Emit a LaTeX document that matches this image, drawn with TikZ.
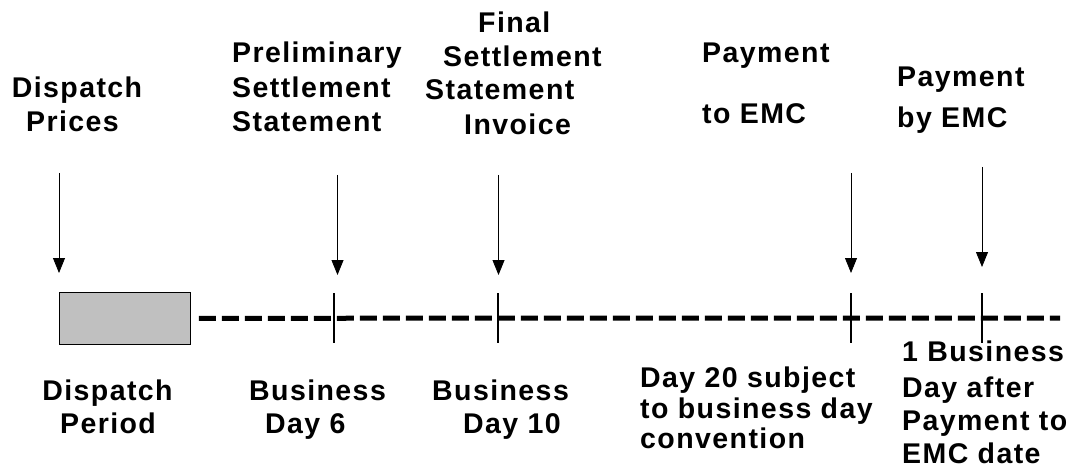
\documentclass[tikz,border=0pt]{standalone}
\usepackage{fontspec}
\setmainfont{Liberation Sans}[LetterSpace=5]
\usetikzlibrary{arrows.meta}
\definecolor{boxgray}{HTML}{C0C0C0}
\begin{document}
\begin{tikzpicture}[x=1pt,y=-1pt,
  lbl/.style={font=\fontsize{28.5}{33}\selectfont\bfseries, inner sep=0pt, anchor=base west},
  lblc/.style={lbl, anchor=base},
  evarrow/.style={-{Triangle[width=12pt,length=15pt]}, line width=0.8pt},
  tickmark/.style={line width=1.5pt},
  timeline/.style={line width=5pt, dash pattern=on 17pt off 6pt}]
\useasboundingbox (0,0) rectangle (1075,470);

% top labels
\node[lblc] (dp1) at (77,98) {Dispatch};
\node[lblc] (dp2) at (72.5,132) {Prices};
\node[lbl] (ps1) at (232,63) {Preliminary};
\node[lbl] (ps2) at (232,98) {Settlement};
\node[lbl] (ps3) at (232,132) {Statement};
\node[lbl] (fs1) at (478,33) {Final};
\node[lbl] (fs2) at (443,67) {Settlement};
\node[lbl] (fs3) at (425,100) {Statement};
\node[lbl] (fs4) at (464,135) {Invoice};
\node[lbl] (pt1) at (702,63) {Payment};
\node[lbl] (pt2) at (702,124) {to EMC};
\node[lbl] (pb1) at (897,87) {Payment};
\node[lbl] (pb2) at (897,128) {by EMC};

% arrows
\coordinate (a1s) at (59,173);   \coordinate (a1e) at (59,273);
\coordinate (a2s) at (337.5,175); \coordinate (a2e) at (337.5,275);
\coordinate (a3s) at (498.5,175); \coordinate (a3e) at (498.5,275);
\coordinate (a4s) at (851,173);  \coordinate (a4e) at (851,273);
\coordinate (a5s) at (982,167);  \coordinate (a5e) at (982,267);
\draw[evarrow] (a1s) -- (a1e);
\draw[evarrow] (a2s) -- (a2e);
\draw[evarrow] (a3s) -- (a3e);
\draw[evarrow] (a4s) -- (a4e);
\draw[evarrow] (a5s) -- (a5e);

% dispatch period box
\node[draw, fill=boxgray, line width=0.8pt, inner sep=0pt,
      minimum width=131pt, minimum height=52pt] (period) at (125,318.3) {};

% timeline
\coordinate (le) at (1060,318);
\draw[timeline] ([xshift=8pt]period.east) -- (le);

% ticks
\coordinate (t1a) at (334,293); \coordinate (t1b) at (334,343);
\coordinate (t2a) at (498,293); \coordinate (t2b) at (498,343);
\coordinate (t3a) at (851,293); \coordinate (t3b) at (851,343);
\coordinate (t4a) at (982,293); \coordinate (t4b) at (982,343);
\draw[tickmark] (t1a) -- (t1b);
\draw[tickmark] (t2a) -- (t2b);
\draw[tickmark] (t3a) -- (t3b);
\draw[tickmark] (t4a) -- (t4b);

% bottom labels
\node[lblc] (dd1) at (107.5,400) {Dispatch};
\node[lblc] (dd2) at (108,433) {Period};
\node[lbl] (b61) at (249,400) {Business};
\node[lbl] (b62) at (265,433) {Day 6};
\node[lbl] (b101) at (432,400) {Business};
\node[lbl] (b102) at (463,433) {Day 10};
\node[lbl] (d201) at (640,387) {Day 20 subject};
\node[lbl] (d202) at (640,418) {to business day};
\node[lbl] (d203) at (640,448) {convention};
\node[lbl] (bd1) at (902,361) {1 Business};
\node[lbl] (bd2) at (902,397) {Day after};
\node[lbl] (bd3) at (902,430) {Payment to};
\node[lbl] (bd4) at (902,463) {EMC date};
\end{tikzpicture}
\end{document}
